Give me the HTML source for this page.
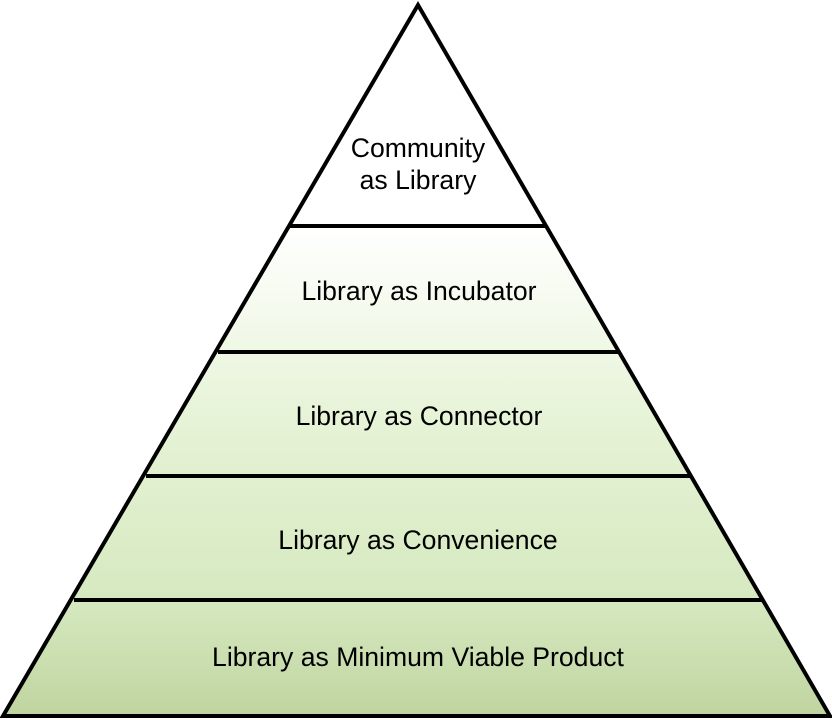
<!DOCTYPE html>
<html><head><style>html,body{margin:0;padding:0;background:#fff;width:832px;height:720px;overflow:hidden}</style></head>
<body>
<svg width="832" height="720" viewBox="0 0 832 720" xmlns="http://www.w3.org/2000/svg">
<defs>
<linearGradient id="g" gradientUnits="userSpaceOnUse" x1="0" y1="226" x2="0" y2="717">
<stop offset="0" stop-color="#ffffff"/>
<stop offset="0.4" stop-color="#e6f3d6"/>
<stop offset="0.76" stop-color="#d6e9c0"/>
<stop offset="1" stop-color="#c0d4a0"/>
</linearGradient>
</defs>
<polygon points="418,5 830,716 3,716" fill="url(#g)" stroke="#000" stroke-width="4" stroke-linejoin="miter"/>
<g stroke="#000" stroke-width="4">
<line x1="290" y1="226" x2="546" y2="226"/>
<line x1="218" y1="352" x2="619" y2="352"/>
<line x1="146" y1="476" x2="691" y2="476"/>
<line x1="74" y1="600" x2="763" y2="600"/>
</g>
<g font-family="Liberation Sans, sans-serif" font-size="26.6" fill="#000" text-anchor="middle">
<text x="418" y="157">Community</text>
<text x="418" y="189">as Library</text>
<text x="419" y="300">Library as Incubator</text>
<text x="419" y="425">Library as Connector</text>
<text x="418" y="549">Library as Convenience</text>
<text x="418" y="666">Library as Minimum Viable Product</text>
</g>
</svg>
</body></html>
